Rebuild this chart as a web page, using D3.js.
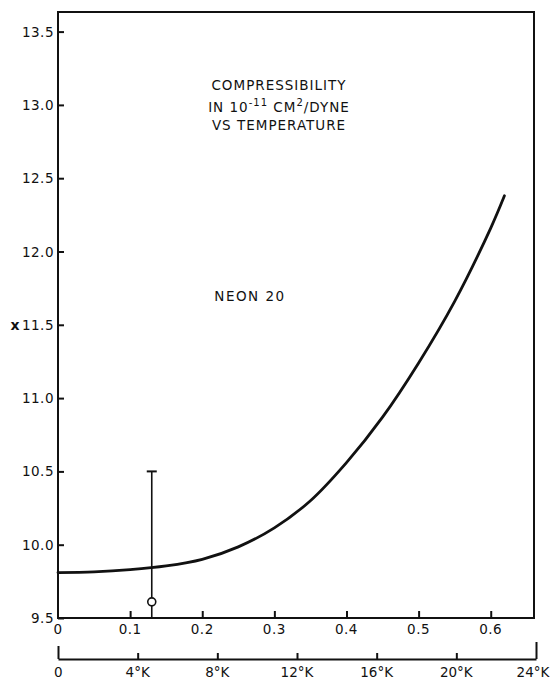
<!DOCTYPE html>
<html>
<head>
<meta charset="utf-8">
<script src="https://cdn.jsdelivr.net/npm/d3@7"></script>
<style>
  body { margin: 0; background: #fff; }
  text { font-family: "DejaVu Sans", "Liberation Sans", sans-serif; fill: #111; }
</style>
</head>
<body>
<svg id="canvas" width="551" height="681"></svg>
<script>
// curve: reduced temperature vs compressibility
let curveX = [0, 0.05, 0.10, 0.15, 0.20, 0.25, 0.30, 0.35, 0.40, 0.45, 0.50, 0.55, 0.60, 0.619]
let curveY = [9.81, 9.815, 9.83, 9.855, 9.90, 9.985, 10.115, 10.30, 10.56, 10.87, 11.24, 11.66, 12.16, 12.38]

// experimental point with error bar
let pointX = [0.13]
let pointY = [9.61]
let errLow = [9.5]
let errHigh = [10.5]

let yTicks = [9.5, 10.0, 10.5, 11.0, 11.5, 12.0, 12.5, 13.0, 13.5]
let yTickLabels = ['9.5', '10.0', '10.5', '11.0', '11.5', '12.0', '12.5', '13.0', '13.5']
let xTicks = [0, 0.1, 0.2, 0.3, 0.4, 0.5, 0.6]
let xTickLabels = ['0', '0.1', '0.2', '0.3', '0.4', '0.5', '0.6']
let tTicks = [0, 4, 8, 12, 16, 20, 24]
let tTickLabels = ['0', '4°K', '8°K', '12°K', '16°K', '20°K', '24°K']

let canvas = d3.select('#canvas')

let plotLeft = 58, plotRight = 534, plotTop = 12, plotBottom = 618

let xScale = d3.scaleLinear().domain([0, 0.66]).range([plotLeft, plotRight])
let yScale = d3.scaleLinear().domain([9.5, 9.5 + (plotBottom - plotTop) / 146.6]).range([plotBottom, plotTop])
let tScale = d3.scaleLinear().domain([0, 24]).range([plotLeft, 536])

// frame
canvas.append('rect')
      .attr('x', plotLeft).attr('y', plotTop)
      .attr('width', plotRight - plotLeft).attr('height', plotBottom - plotTop)
      .attr('fill', 'none')
      .attr('stroke', '#111')
      .attr('stroke-width', 2)

// y axis (ticks inward, labels outside)
let yAxis = d3.axisRight(yScale)
              .tickValues(yTicks)
              .tickSize(6)
              .tickFormat('')
canvas.append('g')
      .attr('transform', `translate(${plotLeft},0)`)
      .call(yAxis)
      .call(g => g.select('.domain').remove())
      .call(g => g.selectAll('line').attr('stroke', '#111').attr('stroke-width', 2))

canvas.selectAll('.ylabel')
      .data(yTicks)
      .enter()
      .append('text')
      .attr('class', 'ylabel')
      .attr('x', plotLeft - 4)
      .attr('y', d => yScale(d) + 5)
      .attr('text-anchor', 'end')
      .style('font-size', '13.5px')
      .style('letter-spacing', '0.5px')
      .text((d, i) => yTickLabels[i])

canvas.append('text')
      .attr('x', 15)
      .attr('y', yScale(11.5) + 5)
      .attr('text-anchor', 'middle')
      .style('font-size', '14px')
      .style('font-weight', 'bold')
      .text('x')

// x axis (reduced temperature)
let xAxis = d3.axisTop(xScale)
              .tickValues(xTicks.slice(1))
              .tickSize(7)
              .tickFormat('')
canvas.append('g')
      .attr('transform', `translate(0,${plotBottom})`)
      .call(xAxis)
      .call(g => g.select('.domain').remove())
      .call(g => g.selectAll('line').attr('stroke', '#111').attr('stroke-width', 2))

canvas.selectAll('.xlabel')
      .data(xTicks)
      .enter()
      .append('text')
      .attr('class', 'xlabel')
      .attr('x', d => xScale(d))
      .attr('y', plotBottom + 16)
      .attr('text-anchor', 'middle')
      .style('font-size', '13.5px')
      .style('letter-spacing', '0.5px')
      .text((d, i) => xTickLabels[i])

// temperature axis
let tY = 659
let tAxis = d3.axisTop(tScale)
              .tickValues(tTicks)
              .tickSize(6)
              .tickSizeOuter(0)
              .tickFormat('')
canvas.append('g')
      .attr('transform', `translate(0,${tY})`)
      .call(tAxis)
      .call(g => g.select('.domain').attr('stroke', '#111').attr('stroke-width', 2))
      .call(g => g.selectAll('.tick line')
                  .attr('stroke', '#111').attr('stroke-width', 2)
                  .attr('y2', (d, i) => i === 0 ? -13 : (i === tTicks.length - 1 ? -17 : -6)))

canvas.selectAll('.tlabel')
      .data(tTicks)
      .enter()
      .append('text')
      .attr('class', 'tlabel')
      .attr('x', d => tScale(d))
      .attr('y', 677)
      .attr('text-anchor', (d, i) => i === 0 ? 'start' : 'middle')
      .attr('dx', (d, i) => i === 0 ? -4 : (i === tTicks.length - 1 ? -3 : 0))
      .style('font-size', '13.5px')
      .text((d, i) => tTickLabels[i])

// curve
let line = d3.line()
             .x(d => xScale(d[0]))
             .y(d => yScale(d[1]))
             .curve(d3.curveCatmullRom)
canvas.append('path')
      .datum(curveX.map((x, i) => [x, curveY[i]]))
      .attr('d', line)
      .attr('fill', 'none')
      .attr('stroke', '#111')
      .attr('stroke-width', 2.8)
      .attr('stroke-linecap', 'round')

// error bar and point
pointX.forEach((px, i) => {
  canvas.append('line')
        .attr('x1', xScale(px)).attr('x2', xScale(px))
        .attr('y1', yScale(errLow[i])).attr('y2', yScale(errHigh[i]))
        .attr('stroke', '#111').attr('stroke-width', 1.6)
  canvas.append('line')
        .attr('x1', xScale(px) - 5).attr('x2', xScale(px) + 5)
        .attr('y1', yScale(errHigh[i])).attr('y2', yScale(errHigh[i]))
        .attr('stroke', '#111').attr('stroke-width', 2)
  canvas.append('circle')
        .attr('cx', xScale(px)).attr('cy', yScale(pointY[i]))
        .attr('r', 4)
        .attr('fill', '#fff')
        .attr('stroke', '#111').attr('stroke-width', 1.6)
})

// annotations
let title = canvas.append('text')
                  .attr('text-anchor', 'middle')
                  .style('font-size', '13.5px')
                  .style('letter-spacing', '1px')
title.append('tspan').attr('x', 279).attr('y', 90).text('COMPRESSIBILITY')
let l2 = title.append('tspan').attr('x', 279).attr('y', 112)
l2.append('tspan').text('IN 10')
l2.append('tspan').attr('dy', -6).style('font-size', '10px').text('-11')
l2.append('tspan').attr('dy', 6).text(' CM')
l2.append('tspan').attr('dy', -6).style('font-size', '10px').text('2')
l2.append('tspan').attr('dy', 6).text('/DYNE')
title.append('tspan').attr('x', 279).attr('y', 130).text('VS TEMPERATURE')

canvas.append('text')
      .attr('x', 250)
      .attr('y', 301)
      .attr('text-anchor', 'middle')
      .style('font-size', '13.5px')
      .style('letter-spacing', '1.5px')
      .text('NEON 20')
</script>
</body>
</html>
